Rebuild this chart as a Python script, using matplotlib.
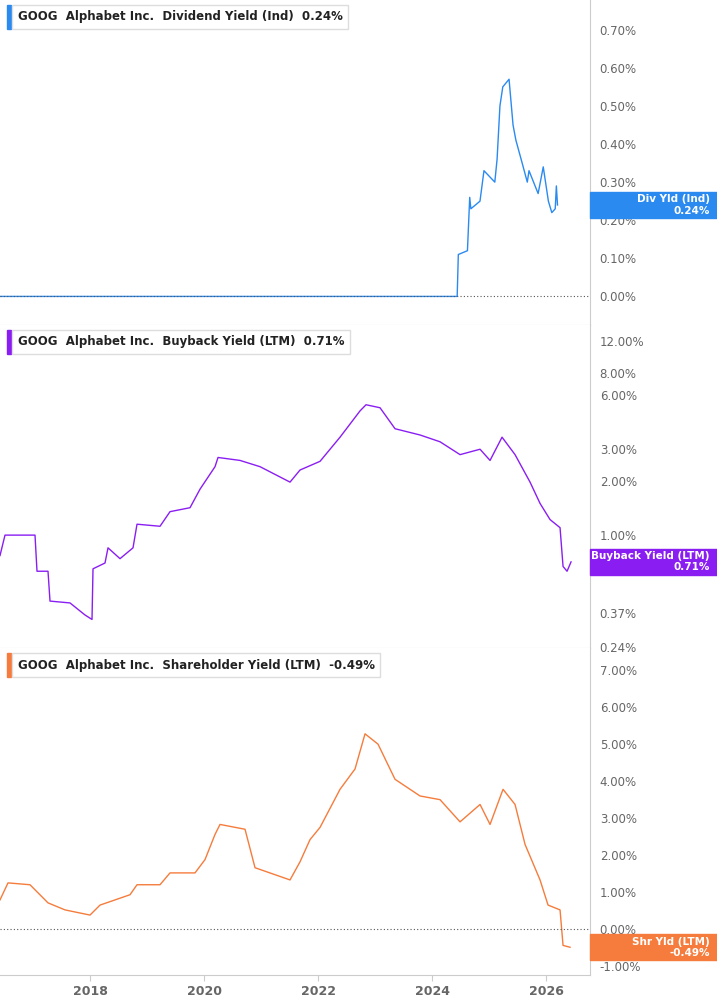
import matplotlib
matplotlib.use("Agg")
import matplotlib.pyplot as plt
from matplotlib.ticker import FixedLocator, NullLocator
from matplotlib.patches import Rectangle
from matplotlib.transforms import blended_transform_factory

# ---- data (decimal years) ----
div_t = [2016.42, 2024.42, 2024.44, 2024.46, 2024.62, 2024.66, 2024.68, 2024.84, 2024.91, 2025.10, 2025.14, 2025.19, 2025.24,
         2025.35, 2025.42, 2025.47, 2025.58, 2025.67, 2025.70, 2025.86, 2025.95, 2026.04, 2026.10, 2026.16, 2026.18, 2026.20]
div_v = [0.0, 0.0, 0.0, 0.11, 0.12, 0.26, 0.23, 0.25, 0.33, 0.30, 0.36, 0.50, 0.55,
         0.57, 0.45, 0.41, 0.35, 0.30, 0.33, 0.27, 0.34, 0.25, 0.22, 0.23, 0.29, 0.24]

bb_x = [0, 5, 35, 37, 48, 50, 70, 85, 92, 93, 105, 108, 120, 133, 137, 160, 170, 190, 200, 215, 218, 240, 260, 290, 300,
        320, 340, 360, 366, 380, 395, 420, 440, 460, 480, 490, 502, 515, 530, 540, 550, 560, 563, 567, 571]
bb_v = [0.77, 1.0, 1.0, 0.63, 0.63, 0.43, 0.42, 0.36, 0.34, 0.65, 0.70, 0.85, 0.74, 0.85, 1.15, 1.12, 1.35, 1.42, 1.8,
        2.4, 2.7, 2.6, 2.4, 1.97, 2.3, 2.57, 3.5, 4.9, 5.3, 5.1, 3.9, 3.6, 3.3, 2.8, 3.0, 2.6, 3.5, 2.8, 1.97, 1.5,
        1.22, 1.1, 0.67, 0.63, 0.71]

sh_x = [0, 8, 30, 48, 65, 90, 100, 130, 137, 160, 170, 195, 205, 215, 220, 245, 255, 290, 300, 310, 320, 340, 355, 365,
        378, 395, 420, 440, 460, 480, 490, 503, 515, 525, 540, 548, 560, 563, 570]
sh_v = [0.79, 1.25, 1.2, 0.71, 0.52, 0.38, 0.65, 0.93, 1.2, 1.2, 1.52, 1.52, 1.88, 2.56, 2.83, 2.7, 1.66, 1.33, 1.82,
        2.42, 2.75, 3.78, 4.33, 5.28, 5.0, 4.05, 3.6, 3.5, 2.9, 3.37, 2.83, 3.78, 3.37, 2.29, 1.33, 0.65, 0.52, -0.44, -0.49]

bb_t = [2016.42 + x / 57 for x in bb_x]
sh_t = [2016.42 + x / 57 for x in sh_x]

x_ticks = [2018, 2020, 2022, 2024, 2026]
div_ticks = [0.0, 0.1, 0.2, 0.3, 0.4, 0.5, 0.6, 0.7]
bb_ticks = [0.24, 0.37, 1.0, 2.0, 3.0, 6.0, 8.0, 12.0]
sh_ticks = [-1, 0, 1, 2, 3, 4, 5, 6, 7]

BLUE, PURPLE, ORANGE = "#2a8af0", "#8a1ef2", "#f57c3c"
XMIN, XMAX = 2016.42, 2026.77

fig = plt.figure(figsize=(7.17, 10.05), dpi=100)
W = 590 / 717
def ax_at(top, bot):
    return fig.add_axes([0, 1 - bot / 1005, W, (bot - top) / 1005])

ax1 = ax_at(0, 325)
ax2 = ax_at(325, 648)
ax3 = ax_at(648, 975)

def style(ax, ticks, fmt):
    for s in ["left", "top"]:
        ax.spines[s].set_visible(False)
    ax.spines["right"].set_color("#cccccc")
    ax.spines["bottom"].set_color("#cccccc")
    ax.yaxis.tick_right()
    ax.yaxis.set_major_locator(FixedLocator(ticks))
    ax.yaxis.set_minor_locator(NullLocator())
    ax.set_yticklabels([fmt(t) for t in ticks])
    ax.tick_params(axis="y", length=0, pad=7, labelsize=8.5, labelcolor="#666666")
    ax.set_xlim(XMIN, XMAX)
    ax.set_xticks(x_ticks)
    ax.tick_params(axis="x", length=4, color="#cccccc")

def legend_box(ax, color, text, bold_val):
    ax.text(0.03, 0.948, "GOOG  Alphabet Inc.  " + text + "  " + bold_val, transform=ax.transAxes,
            fontsize=8.5, fontweight="bold", color="#222222", va="center", ha="left",
            bbox=dict(boxstyle="square,pad=0.45", fc="white", ec="#dddddd"))
    ax.add_patch(Rectangle((0.012, 0.91), 0.006, 0.075, transform=ax.transAxes, color=color, clip_on=False))

def tag(ax, y, color, txt):
    # convert data y to figure fraction
    _, yf = fig.transFigure.inverted().transform(ax.transData.transform((XMIN, y)))
    h = 26 / 1005
    fig.add_artist(Rectangle((W, yf - h / 2), 1 - W, h, transform=fig.transFigure, color=color))
    fig.text(0.99, yf, txt, fontsize=7.5, fontweight="bold", color="white", ha="right", va="center",
             multialignment="right", linespacing=1.15)

# Panel 1
ax1.plot(div_t, div_v, color=BLUE, lw=1)
ax1.axhline(0, color="#555555", ls=(0, (1, 2)), lw=0.8)
ax1.set_ylim(-0.075, 0.778)
style(ax1, div_ticks, lambda t: f"{t:.2f}%")
ax1.set_xticklabels([])
ax1.tick_params(axis="x", length=0)
legend_box(ax1, BLUE, "Dividend Yield (Ind)", "0.24%")

# Panel 2
ax2.plot(bb_t, bb_v, color=PURPLE, lw=1)
ax2.set_yscale("log")
ax2.set_ylim(0.236, 14.7)
style(ax2, bb_ticks, lambda t: f"{t:.2f}%")
ax2.set_xticklabels([])
ax2.tick_params(axis="x", length=0)
legend_box(ax2, PURPLE, "Buyback Yield (LTM)", "0.71%")

# Panel 3
ax3.plot(sh_t, sh_v, color=ORANGE, lw=1)
ax3.axhline(0, color="#555555", ls=(0, (1, 2)), lw=0.8)
ax3.set_ylim(-1.24, 7.6)
style(ax3, sh_ticks, lambda t: f"{t:.2f}%")
ax3.set_xticklabels([str(t) for t in x_ticks], fontsize=9, fontweight="bold", color="#666666")
legend_box(ax3, ORANGE, "Shareholder Yield (LTM)", "-0.49%")

tag(ax1, 0.24, BLUE, "Div Yld (Ind)\n0.24%")
tag(ax2, 0.71, PURPLE, "Buyback Yield (LTM)\n0.71%")
tag(ax3, -0.49, ORANGE, "Shr Yld (LTM)\n-0.49%")

fig.savefig("out.png", dpi=100)
